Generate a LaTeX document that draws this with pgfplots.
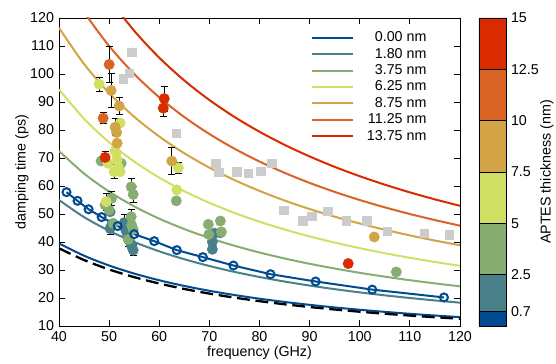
\documentclass[border=0pt]{standalone}
\usepackage{fontspec}
\setmainfont{Liberation Sans}
\usepackage{pgfplots}
\pgfplotsset{compat=1.18}
\usetikzlibrary{calc}
\definecolor{cA}{RGB}{0,75,145}
\definecolor{cB}{RGB}{74,128,137}
\definecolor{cC}{RGB}{136,173,115}
\definecolor{cD}{RGB}{208,224,100}
\definecolor{cE}{RGB}{210,164,69}
\definecolor{cF}{RGB}{217,100,37}
\definecolor{cG}{RGB}{218,43,0}
\definecolor{cS}{RGB}{204,204,204}
\pgfplotsset{
  pts/.style={only marks, mark=*, mark size=3.6pt, color=#1, mark options={fill=#1, draw=#1},
    error bars/.cd, y dir=both, y explicit,
    error bar style={black, line width=0.6pt},
    error mark options={rotate=90, black, mark size=2.4pt, line width=0.6pt}},
  crv/.style={color=#1, line width=1.4pt, smooth},
}
\begin{document}
\begin{tikzpicture}
\begin{axis}[name=main, scale only axis, width=280.7pt, height=215.6pt,
  xmin=40, xmax=120, ymin=10, ymax=120,
  xtick={40,50,...,120}, ytick={10,20,...,120},
  /pgf/number format/assume math mode=true,
  font=\fontsize{10}{12}\selectfont,
  xlabel={frequency (GHz)}, ylabel={damping time (ps)},
  xlabel style={at={(axis description cs:0.5,-0.0858)}, anchor=center},
  ylabel style={at={(axis description cs:-0.0923,0.5)}, anchor=center},
  axis line style={line width=0.6pt}, tick style={line width=0.6pt, black},
  major tick length=4pt,
  legend style={draw=none, fill=none, at={(0.935,0.975)}, anchor=north east,
    font=\fontsize{10}{11}\selectfont, row sep=-1.0pt},
  legend cell align=right,
  legend image code/.code={\draw[#1] (0pt,0pt) -- (29pt,0pt); \path (36pt,0pt);},
  clip=true]
% curves
\addplot[crv=cA] coordinates {(40,39.5)(45,35.11)(50,31.6)(55,28.73)(60,26.33)(65,24.31)(70,22.57)(75,21.07)(80,19.75)(85,18.59)(90,17.56)(95,16.63)(100,15.8)(105,15.05)(110,14.36)(115,13.74)(120,13.17)};
\addlegendentry{0.00 nm}
\addplot[crv=cB] coordinates {(40,55)(45,48.89)(50,44)(55,40)(60,36.67)(65,33.85)(70,31.43)(75,29.33)(80,27.5)(85,25.88)(90,24.44)(95,23.16)(100,22)(105,20.95)(110,20)(115,19.13)(120,18.33)};
\addlegendentry{1.80 nm}
\addplot[crv=cC] coordinates {(40,72.5)(45,64.44)(50,58)(55,52.73)(60,48.33)(65,44.62)(70,41.43)(75,38.67)(80,36.25)(85,34.12)(90,32.22)(95,30.53)(100,29)(105,27.62)(110,26.36)(115,25.22)(120,24.17)};
\addlegendentry{3.75 nm}
\addplot[crv=cD] coordinates {(40,94.5)(45,84)(50,75.6)(55,68.73)(60,63)(65,58.15)(70,54)(75,50.4)(80,47.25)(85,44.47)(90,42)(95,39.79)(100,37.8)(105,36)(110,34.36)(115,32.87)(120,31.5)};
\addlegendentry{6.25 nm}
\addplot[crv=cE] coordinates {(40,116.5)(45,103.56)(50,93.2)(55,84.73)(60,77.67)(65,71.69)(70,66.57)(75,62.13)(80,58.25)(85,54.82)(90,51.78)(95,49.05)(100,46.6)(105,44.38)(110,42.36)(115,40.52)(120,38.83)};
\addlegendentry{8.75 nm}
\addplot[crv=cF] coordinates {(40,137.5)(45,122.22)(50,110)(55,100)(60,91.67)(65,84.62)(70,78.57)(75,73.33)(80,68.75)(85,64.71)(90,61.11)(95,57.89)(100,55)(105,52.38)(110,50)(115,47.83)(120,45.83)};
\addlegendentry{11.25 nm}
\addplot[crv=cG] coordinates {(40,158.75)(45,141.11)(50,127)(55,115.45)(60,105.83)(65,97.69)(70,90.71)(75,84.67)(80,79.38)(85,74.71)(90,70.56)(95,66.84)(100,63.5)(105,60.48)(110,57.73)(115,55.22)(120,52.92)};
\addlegendentry{13.75 nm}
\addplot[forget plot, black, line width=1.6pt, dash pattern=on 9pt off 4pt, smooth] coordinates {(40,37.75)(45,33.56)(50,30.2)(55,27.45)(60,25.17)(65,23.23)(70,21.57)(75,20.13)(80,18.88)(85,17.76)(90,16.78)(95,15.89)(100,15.1)(105,14.38)(110,13.73)(115,13.13)(120,12.58)};
% gray squares
\addplot[forget plot, only marks, mark=square*, mark size=3pt, color=cS, mark options={fill=cS, draw=cS}] coordinates {
(54.5,107.8)(52.8,98.2)(54.0,100.3)(63.4,78.8)(71.3,68.1)(71.9,64.9)(75.5,65.1)(77.8,64.5)(80.3,65.3)(82.5,68.1)
(84.9,51.4)(88.6,47.6)(90.4,49.2)(93.6,51.0)(97.3,47.5)(101.4,47.5)(105.5,43.9)(112.9,43.1)(117.9,42.5)};
% teal points
\addplot[forget plot, pts=cB] table[x=x, y=y, y error=e] {
x y e
50.2 50.8 0
50.2 44.8 2
50.5 46.0 0
53.0 46.9 3
53.2 44.8 0
53.5 43.5 0
53.8 41.3 3
54.3 39.5 0
54.5 38.5 0
54.8 37.1 2
70.6 40.1 0
70.6 37.4 0
71.0 43.1 0
72.2 43.3 1
};
% green points
\addplot[forget plot, pts=cC] table[x=x, y=y, y error=e] {
x y e
48.4 68.9 0
52.4 68.1 0
54.4 59.7 3
54.8 57.0 3
50.5 55.6 2.5
49.2 53.2 0
50.0 51.4 0
50.8 46.7 0
54.4 49.0 2.5
54.5 46.0 0
54.8 44.5 0
53.8 40.9 0
69.8 46.3 0
72.2 47.5 0
69.9 42.7 0
72.4 43.6 0
63.4 54.7 0
107.3 29.3 0
};
% light green points
\addplot[forget plot, pts=cD] table[x=x, y=y, y error=e] {
x y e
48.0 96.4 2.5
52.2 82.5 0
51.2 72.6 0
49.8 68.1 0
51.4 71.7 0
51.6 69.3 0
51.8 66.9 0
51.0 65.1 2.5
52.2 65.1 0
63.8 66.5 2
63.5 58.6 0
49.4 54.4 3
};
% gold points
\addplot[forget plot, pts=cE] table[x=x, y=y, y error=e] {
x y e
50.4 94.1 6
52.0 88.6 3
51.2 81.0 3
51.5 79.1 0
51.6 75.3 0
62.5 68.9 4.8
102.9 41.8 0
};
% orange points
\addplot[forget plot, pts=cF] table[x=x, y=y, y error=e] {
x y e
50.0 103.4 6.5
48.8 84.2 2
};
% red points
\addplot[forget plot, pts=cG] table[x=x, y=y, y error=e] {
x y e
49.2 70.2 2
61.0 91.2 4.5
60.8 87.8 3
97.7 32.3 0.5
};
% circle line
\addplot[forget plot, cA, line width=1.4pt, mark=o, mark size=2.8pt, mark options={line width=1.4pt}] coordinates {
(41.5,57.8)(43.7,54.7)(45.9,51.7)(48.5,48.9)(51.7,45.7)(55.0,42.8)(59.0,40.3)(63.5,37.1)(68.7,34.6)(74.8,31.6)(82.2,28.5)(91.2,25.9)(102.5,23.0)(116.8,20.2)};
\end{axis}
\begin{axis}[name=cb, at={($(main.south east)+(13.3pt,0pt)$)}, anchor=south west,
  scale only axis, width=18.9pt, height=215.6pt,
  xmin=0, xmax=1, ymin=0, ymax=15, xtick=\empty,
  ytick={0.7,2.5,5,7.5,10,12.5,15}, yticklabels={0.7,2.5,5,7.5,10,12.5,15},
  yticklabel pos=right, major tick length=0pt,
  font=\fontsize{10}{12}\selectfont,
  ylabel={APTES thickness (nm)},
  ylabel style={at={(axis description cs:2.519,0.5)}, anchor=center},
  axis line style={line width=0.6pt}]
\addplot[fill=cA, draw=black, line width=0.6pt] coordinates {(0,0)(1,0)(1,0.7)(0,0.7)(0,0)};
\addplot[fill=cB, draw=black, line width=0.6pt] coordinates {(0,0.7)(1,0.7)(1,2.5)(0,2.5)(0,0.7)};
\addplot[fill=cC, draw=black, line width=0.6pt] coordinates {(0,2.5)(1,2.5)(1,5)(0,5)(0,2.5)};
\addplot[fill=cD, draw=black, line width=0.6pt] coordinates {(0,5)(1,5)(1,7.5)(0,7.5)(0,5)};
\addplot[fill=cE, draw=black, line width=0.6pt] coordinates {(0,7.5)(1,7.5)(1,10)(0,10)(0,7.5)};
\addplot[fill=cF, draw=black, line width=0.6pt] coordinates {(0,10)(1,10)(1,12.5)(0,12.5)(0,10)};
\addplot[fill=cG, draw=black, line width=0.6pt] coordinates {(0,12.5)(1,12.5)(1,15)(0,15)(0,12.5)};
\end{axis}
\pgfresetboundingbox
\path[use as bounding box] ($(main.south west)+(-41.3pt,-26.6pt)$) rectangle ($(main.north west)+(347.9pt,12.6pt)$);
\end{tikzpicture}
\end{document}
